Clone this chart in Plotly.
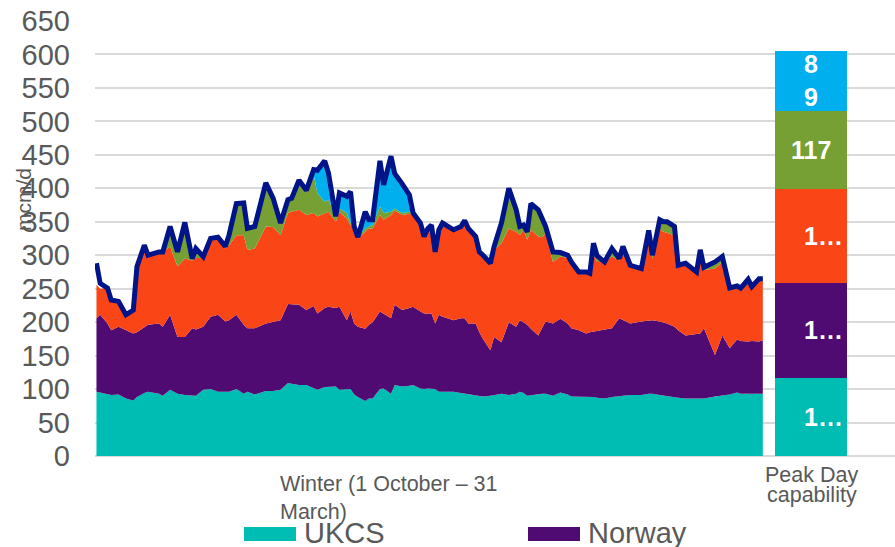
import plotly.graph_objects as go

# ---------------- data ----------------
# day of winter (0 = 1 October, 181 = 31 March)
day = [0, 1, 3, 4, 6, 8, 10, 11, 13, 14, 17, 18, 20, 22, 24, 26, 27, 29, 31, 33,
       35, 36, 38, 40, 41, 43, 46, 48, 50, 52, 53, 55, 57, 59, 60, 62, 63, 65, 66, 68,
       69, 70, 71, 73, 74, 75, 77, 78, 80, 81, 83, 85, 86, 88, 89, 90, 91, 92, 93, 94,
       97, 99, 100, 101, 103, 104, 105, 107, 108, 110, 112, 114, 115, 116, 117, 118, 120, 121, 122, 124,
       126, 128, 129, 131, 133, 134, 135, 136, 138, 140, 142, 143, 145, 148, 150, 151, 153, 154, 155, 157,
       158, 160, 163, 164, 165, 168, 170, 172, 174, 175, 177, 178, 180, 181]

ukcs = [96, 95, 93, 91, 92, 86, 83, 88, 94, 96, 93, 90, 99, 93, 91, 90, 90, 99, 100, 96,
        96, 96, 100, 93, 96, 92, 97, 97, 99, 109, 108, 106, 106, 102, 99, 103, 103, 104, 99, 100,
        100, 92, 88, 82, 86, 86, 100, 101, 93, 106, 104, 105, 106, 101, 100, 101, 100, 100, 96, 96,
        96, 94, 93, 92, 91, 89, 89, 90, 91, 93, 91, 93, 96, 94, 90, 91, 93, 93, 93, 90,
        95, 92, 89, 89, 89, 88, 88, 87, 86, 88, 90, 90, 91, 91, 93, 93, 91, 90, 89, 88,
        87, 86, 86, 86, 86, 89, 90, 92, 95, 93, 93, 93, 93, 93]

norway = [110, 116, 105, 97, 101, 102, 100, 97, 99, 100, 105, 103, 112, 85, 87, 101, 99, 94, 108, 115,
          105, 107, 111, 103, 95, 99, 101, 104, 104, 118, 119, 120, 112, 122, 114, 118, 120, 117, 124, 103,
          116, 106, 105, 108, 110, 114, 116, 112, 113, 120, 114, 116, 117, 115, 113, 112, 113, 98, 115, 112,
          107, 112, 113, 106, 107, 96, 86, 68, 87, 77, 109, 100, 107, 106, 106, 99, 87, 98, 108, 108,
          110, 106, 102, 99, 94, 97, 98, 101, 104, 103, 116, 113, 107, 110, 110, 110, 110, 110, 109, 105,
          101, 94, 97, 97, 105, 62, 90, 69, 79, 79, 78, 79, 78, 80]

lng = [50, 39, 53, 45, 38, 23, 35, 98, 122, 104, 107, 112, 102, 105, 117, 101, 107, 103, 114, 113,
       109, 112, 119, 134, 117, 119, 145, 141, 127, 136, 138, 142, 142, 139, 145, 142, 142, 129, 142, 152,
       129, 142, 132, 145, 144, 140, 144, 140, 154, 141, 142, 141, 137, 132, 115, 127, 132, 107, 127, 140,
       135, 137, 146, 142, 130, 120, 125, 130, 130, 148, 140, 142, 127, 138, 127, 148, 148, 136, 132, 92,
       93, 98, 99, 87, 92, 88, 114, 102, 100, 107, 86, 110, 87, 79, 125, 92, 137, 135, 135, 137,
       97, 108, 92, 115, 87, 129, 110, 90, 80, 79, 93, 81, 94, 92]

continent = [0, 0, 0, 0, 0, 0, 0, 0, 0, 0, 0, 0, 30, 22, 54, 3, 14, 2, 3, 3,
             3, 15, 47, 48, 32, 33, 65, 43, 18, 20, 20, 44, 37, 57, 35, 17, 18, 8, 5, 8,
             3, 3, 2, 5, 3, 5, 13, 10, 5, 3, 3, 3, 3, 0, 0, 0, 0, 0, 0, 0,
             0, 0, 0, 0, 0, 0, 0, 0, 5, 30, 60, 33, 13, 7, 12, 39, 40, 26, 10, 15,
             6, 4, 0, 0, 0, 0, 18, 9, 0, 12, 3, 0, 0, 0, 9, 5, 15, 15, 17, 13,
             0, 0, 0, 10, 4, 10, 8, 0, 0, 0, 0, 0, 0, 0]

storage = [0, 0, 0, 0, 0, 0, 0, 0, 0, 0, 0, 0, 0, 0, 0, 0, 0, 0, 0, 0,
           0, 0, 0, 0, 0, 0, 0, 0, 0, 0, 0, 0, 0, 8, 34, 61, 40, 0, 23, 25,
           47, 0, 0, 25, 10, 8, 68, 42, 83, 52, 44, 25, 0, 0, 0, 0, 0, 0, 0, 0,
           0, 0, 0, 0, 0, 0, 0, 0, 0, 0, 0, 0, 0, 0, 0, 0, 0, 0, 0, 0,
           0, 0, 0, 0, 0, 0, 0, 0, 0, 0, 0, 0, 0, 0, 0, 0, 0, 0, 0, 0,
           0, 0, 0, 0, 0, 0, 0, 0, 0, 0, 0, 0, 0, 0]

demand = [288, 258, 251, 233, 231, 211, 218, 283, 315, 300, 305, 305, 343, 305, 349, 295, 310, 298, 325, 327,
          313, 330, 377, 378, 340, 343, 408, 385, 348, 383, 385, 412, 397, 428, 427, 441, 423, 358, 393, 388,
          395, 343, 327, 365, 353, 353, 441, 405, 448, 422, 407, 390, 363, 348, 328, 340, 345, 305, 338, 348,
          338, 343, 352, 340, 328, 305, 300, 288, 313, 348, 400, 368, 343, 345, 335, 377, 368, 353, 343, 305,
          304, 300, 290, 275, 275, 273, 318, 299, 290, 310, 295, 313, 285, 280, 337, 300, 353, 350, 350, 343,
          285, 288, 275, 308, 282, 290, 298, 251, 254, 251, 264, 253, 265, 265]

series_names = ["UKCS", "Norway", "LNG", "Continent", "Storage"]
series_values = [ukcs, norway, lng, continent, storage]

peak_values = [117, 142, 140, 117, 89]
peak_labels = ["1…", "1…", "1…", "117", "8<br>9"]
peak_label_shift = [13, 13, 13, 0, 0]

category_labels = ["Winter (1 October – 31<br>March)", "Peak Day", "capability"]
y_ticks = list(range(0, 651, 50))

# ---------------- styling ----------------
colors = ["#00BDB4", "#500B73", "#FA4616", "#76A033", "#00B0EE"]
navy = "#001489"
grey_text = "#595959"
grid = "#D9D9D9"
FONT = "Liberation Sans, Arial, sans-serif"

W, H = 895, 547
ML, MR, MT, MB = 95, 0, 21, 91
PW, PH = W - ML - MR, H - MT - MB
X_RANGE = [-0.4, 216.9]
BAR_X, BAR_W = 194.0, 19.6


def px_x(px):
    return (px - ML) / PW


def px_y(py):
    return (H - MB - py) / PH


fig = go.Figure()

for name, vals, col in zip(series_names, series_values, colors):
    fig.add_trace(go.Scatter(
        x=day, y=vals, name=name, stackgroup="supply", mode="lines",
        line=dict(width=0, color=col), fillcolor=col, showlegend=False))

fig.add_trace(go.Scatter(
    x=day, y=demand, name="Demand", mode="lines",
    line=dict(color=navy, width=5), showlegend=False))

for name, v, col in zip(series_names, peak_values, colors):
    fig.add_trace(go.Bar(
        x=[BAR_X], y=[v], width=BAR_W, name=name,
        marker=dict(color=col, line=dict(width=0)), showlegend=False))

annotations = []
# peak bar labels
base = 0
for v, lab, sh in zip(peak_values, peak_labels, peak_label_shift):
    annotations.append(dict(
        x=BAR_X, y=base + v / 2, xref="x", yref="y", text=lab, showarrow=False,
        xshift=sh, xanchor="center", yanchor="middle",
        font=dict(family=FONT, size=25, color="white", weight="bold")))
    base += v

# category labels
annotations.append(dict(
    x=px_x(278), y=px_y(498), xref="paper", yref="paper", text=category_labels[0],
    showarrow=False, xanchor="left", yanchor="middle", align="left",
    font=dict(family=FONT, size=21.5, color=grey_text)))
annotations.append(dict(
    x=px_x(811.5), y=px_y(474.5), xref="paper", yref="paper", text=category_labels[1],
    showarrow=False, xanchor="center", yanchor="middle",
    font=dict(family=FONT, size=21.5, color=grey_text)))
annotations.append(dict(
    x=px_x(811.5), y=px_y(495), xref="paper", yref="paper", text=category_labels[2],
    showarrow=False, xanchor="center", yanchor="middle",
    font=dict(family=FONT, size=21.5, color=grey_text)))

# y axis title
annotations.append(dict(
    x=px_x(23), y=px_y(200), xref="paper", yref="paper", text="mcm/d", textangle=-90,
    showarrow=False, xanchor="center", yanchor="middle",
    font=dict(family=FONT, size=21, color=grey_text)))

# legend (visible part)
shapes = []
legend_items = [("UKCS", colors[0], 244, 296, 302), ("Norway", colors[1], 528, 580, 586)]
for name, col, x0, x1, tx in legend_items:
    shapes.append(dict(type="rect", xref="paper", yref="paper",
                       x0=px_x(x0), x1=px_x(x1), y0=px_y(541), y1=px_y(527),
                       fillcolor=col, line=dict(width=0)))
    annotations.append(dict(
        x=px_x(tx), y=px_y(532.5), xref="paper", yref="paper", text=name,
        showarrow=False, xanchor="left", yanchor="middle",
        font=dict(family=FONT, size=29, color=grey_text)))

fig.update_layout(
    width=W, height=H,
    margin=dict(l=ML, r=MR, t=MT, b=MB, pad=0, autoexpand=False),
    paper_bgcolor="white", plot_bgcolor="white",
    barmode="stack", showlegend=False,
    font=dict(family=FONT, color=grey_text),
    xaxis=dict(range=X_RANGE, showgrid=False, zeroline=False, showticklabels=False,
               showline=False, ticks="", automargin=False),
    yaxis=dict(range=[0, 650], tickvals=y_ticks, showgrid=True, gridcolor=grid, gridwidth=1.5,
               zeroline=True, zerolinecolor=grid, zerolinewidth=1.5, showline=False,
               ticks="", ticklabelstandoff=24, automargin=False,
               tickfont=dict(family=FONT, size=29, color=grey_text)),
    annotations=annotations, shapes=shapes,
)

fig.write_html(
    "out.html",
    config={"displayModeBar": False},
    post_script="document.body.style.margin='0';document.body.style.padding='0';"
                "document.body.style.overflow='hidden';",
)
